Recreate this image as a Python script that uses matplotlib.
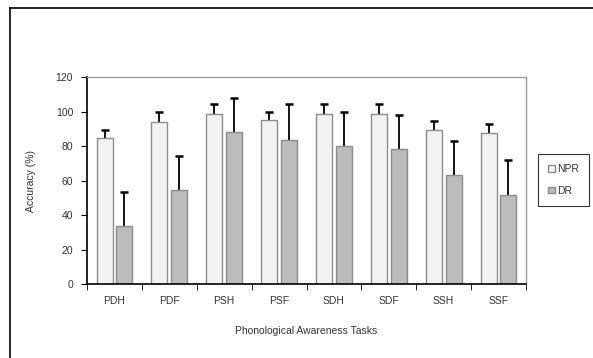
import numpy as np
import matplotlib.pyplot as plt
from matplotlib.lines import Line2D

plt.rcParams['font.family'] = ['Liberation Sans', 'DejaVu Sans']

tasks = ['PDH', 'PDF', 'PSH', 'PSF', 'SDH', 'SDF', 'SSH', 'SSF']
npr_mean = [84.5, 94.0, 98.6, 95.0, 98.6, 98.6, 89.1, 87.3]
npr_sd = [4.5, 6.0, 5.6, 5.0, 5.6, 5.6, 5.2, 5.3]
dr_mean = [33.6, 54.3, 88.1, 83.7, 79.8, 78.1, 63.0, 51.4]
dr_sd = [20.0, 20.0, 20.0, 20.5, 20.1, 20.1, 19.7, 20.5]

W, H = 593, 358
fig = plt.figure(figsize=(W / 100, H / 100), dpi=100)
ax = fig.add_axes([87 / W, 1 - 284 / H, (526 - 87) / W, (284 - 77) / H])

x = np.arange(len(tasks))
off, bw = 0.18, 0.29
err_kw = dict(ecolor='black', elinewidth=1.3, capsize=3, capthick=1.8)

b1 = ax.bar(x - off, npr_mean, bw, color='#f2f2f2', edgecolor='#8c8c8c',
            linewidth=1, label='NPR', zorder=2)
e1 = ax.errorbar(x - off, npr_mean, yerr=[np.zeros(len(x)), npr_sd],
                 fmt='none', zorder=1, **err_kw)
b2 = ax.bar(x + off, dr_mean, bw, color='#bcbcbc', edgecolor='#8c8c8c',
            linewidth=1, label='DR', zorder=2)
e2 = ax.errorbar(x + off, dr_mean, yerr=[np.zeros(len(x)), dr_sd],
                 fmt='none', zorder=1, **err_kw)
# only the upper cap is drawn
for e in (e1, e2):
    e[1][0].set_visible(False)

ax.set_xlim(-0.5, len(tasks) - 0.5)
ax.set_ylim(0, 120)
ax.set_yticks(np.arange(0, 121, 20))
ax.set_xticks(x)
ax.set_xticklabels(tasks)
ax.set_xticks(np.arange(-0.5, len(tasks)), minor=True)
ax.tick_params(axis='x', which='major', length=0, pad=9, labelsize=7.5,
               labelcolor='#333333')
ax.tick_params(axis='x', which='minor', length=4, direction='out', color='black')
ax.tick_params(axis='y', length=4, direction='out', labelsize=7.5,
               labelcolor='#333333', pad=6)

for s in ['top', 'right']:
    ax.spines[s].set_color('#9a9a9a')
    ax.spines[s].set_linewidth(1)
for s in ['left', 'bottom']:
    ax.spines[s].set_color('black')
    ax.spines[s].set_linewidth(1.2)

ax.set_ylabel('Accuracy (%)', fontsize=7.5, color='#333333', labelpad=14)
ax.set_xlabel('Phonological Awareness Tasks', fontsize=7.5, color='#333333',
              labelpad=14)

leg = fig.legend(handles=[b1, b2], loc='center left',
                 bbox_to_anchor=(538 / W, 1 - 180 / H), fontsize=7.5,
                 frameon=True, fancybox=False, handlelength=0.6,
                 handleheight=0.6, handletextpad=0.2, labelspacing=1.1,
                 borderpad=1.0, borderaxespad=0)
leg.get_frame().set_edgecolor('black')
leg.get_frame().set_linewidth(0.8)
for t in leg.get_texts():
    t.set_color('#333333')

# outer chart border (only top and left visible in the crop)
fig.add_artist(Line2D([9.5 / W, 1.01], [1 - 7.5 / H, 1 - 7.5 / H],
                      transform=fig.transFigure, color='black', lw=1.2))
fig.add_artist(Line2D([9.5 / W, 9.5 / W], [-0.01, 1 - 7.5 / H],
                      transform=fig.transFigure, color='black', lw=1.2))

fig.savefig('out.png', dpi=100)
